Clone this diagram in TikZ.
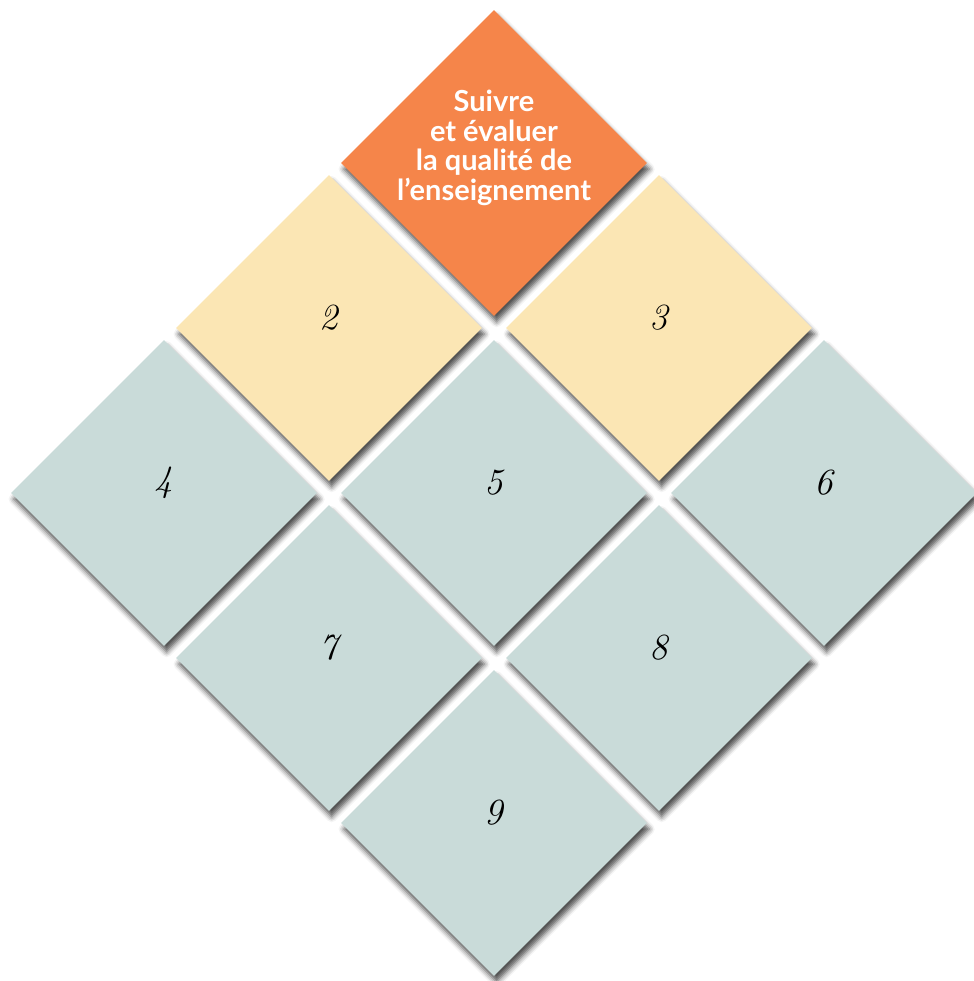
\documentclass[tikz,border=0pt]{standalone}
\usepackage{fontspec}
\newfontfamily\titlefont{Lato}
\usetikzlibrary{shapes.geometric,positioning,shadows.blur}
\definecolor{tileorange}{HTML}{F5854A}
\definecolor{tileyellow}{HTML}{FBE6B4}
\definecolor{tilegrey}{HTML}{C9DBD9}

\begin{document}
\begin{tikzpicture}[on grid, node distance=3.3cm and 3.3cm,
	tile/.style={shape=diamond, aspect=1, inner sep=0pt, minimum size=6.12cm,
		blur shadow={shadow xshift=1.5pt, shadow yshift=-3.5pt, shadow blur radius=3pt, shadow opacity=70}},
	num/.style={font=\itshape\fontsize{21}{24}\selectfont, yshift=0.2cm},]
	\useasboundingbox (0,0) rectangle (19.48,-19.62);
	% create the tiles
	\node (t1)[tile, fill=tileorange] at (9.88,-3.26) {};
	\node (t2)[tile, fill=tileyellow, below left =of t1] {};
	\node (t3)[tile, fill=tileyellow, below right =of t1] {};
	\node (t4)[tile, fill=tilegrey, below left =of t2] {};
	\node (t5)[tile, fill=tilegrey, below right =of t2] {};
	\node (t6)[tile, fill=tilegrey, below right =of t3] {};
	\node (t7)[tile, fill=tilegrey, below right =of t4] {};
	\node (t8)[tile, fill=tilegrey, below right =of t5] {};
	\node (t9)[tile, fill=tilegrey, below right =of t7] {};

	% put the texts
	\node (title)[text=white, align=center, font=\titlefont\bfseries\fontsize{16.5}{16.8}\selectfont] at ([yshift=0.3cm]t1) {Suivre\\et évaluer\\la qualité de\\l’enseignement};
	\foreach \i in {2,...,9}
		\node (n\i)[num] at (t\i) {\i};
\end{tikzpicture}
\end{document}
